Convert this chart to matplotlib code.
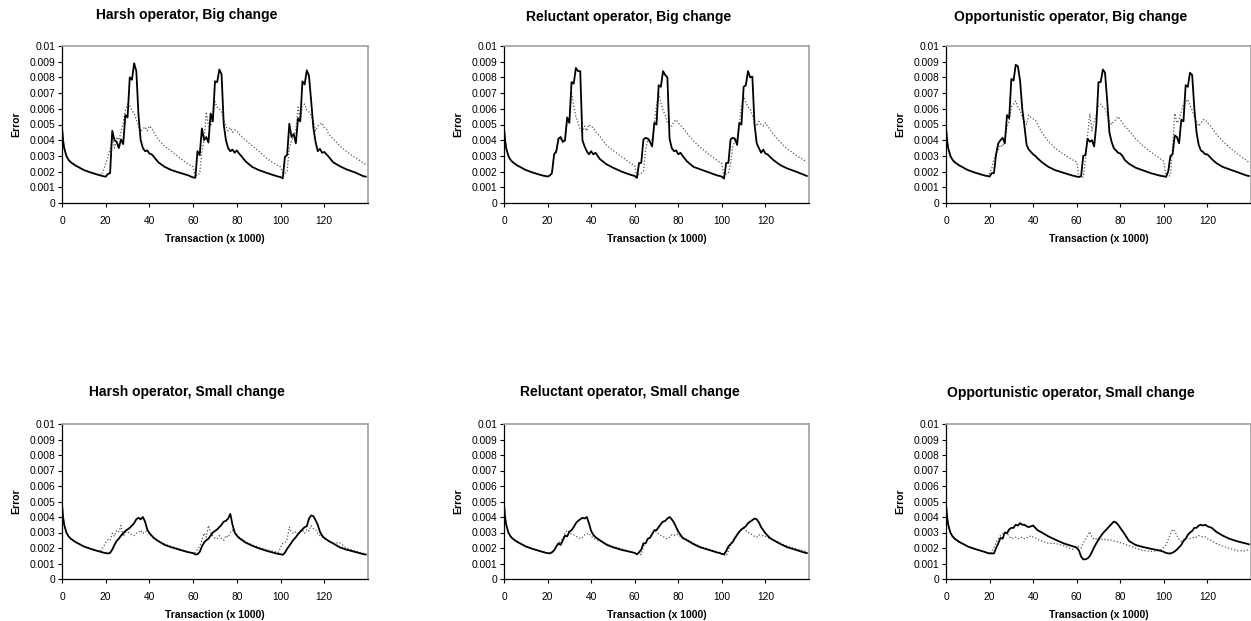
import numpy as np
import matplotlib
matplotlib.use('Agg')
import matplotlib.pyplot as plt
from matplotlib.ticker import FuncFormatter

plt.rcParams['font.family'] = ['Liberation Sans', 'DejaVu Sans']

# transaction count (x 1000) where the curves were read
transactions = [0, 0.5, 1, 2, 3, 4, 6, 8, 10, 13, 16, 18,
                19, 20, 21, 22, 23, 24, 25, 26, 27, 28, 29, 30, 31, 32, 33, 34, 35, 36, 37, 38, 39, 40, 41, 42,
                44, 47, 50, 54, 58,
                59, 60, 61, 62, 63, 64, 65, 66, 67, 68, 69, 70, 71, 72, 73, 74, 75, 76, 77, 78, 79, 80, 81, 82,
                84, 87, 90, 94, 98,
                99, 100, 101, 102, 103, 104, 105, 106, 107, 108, 109, 110, 111, 112, 113, 114, 115, 116, 117, 118, 119, 120, 121, 122,
                124, 127, 130, 134, 138,
                139]

# error values in units of 0.001
harsh_big_solid = [4.8, 4.0, 3.5, 3.0, 2.75, 2.6, 2.4, 2.25, 2.1, 1.95, 1.82, 1.74,
                   1.7, 1.68, 1.85, 1.9, 4.6, 4.0, 3.9, 3.5, 4.05, 3.75, 5.6, 5.45, 8.0, 7.85, 8.9, 8.4, 5.6, 4.0, 3.5, 3.3, 3.35, 3.15, 3.1, 2.95,
                   2.6, 2.3, 2.1, 1.92, 1.75,
                   1.68, 1.63, 1.6, 3.3, 3.05, 4.75, 4.0, 4.2, 3.85, 5.7, 5.2, 7.75, 7.7, 8.5, 8.2, 5.0, 4.0, 3.5, 3.3, 3.4, 3.2, 3.35, 3.15, 3.0,
                   2.65, 2.3, 2.1, 1.9, 1.72,
                   1.68, 1.65, 1.57, 2.95, 3.05, 5.05, 4.2, 4.4, 3.8, 5.4, 5.2, 7.75, 7.55, 8.45, 8.1, 6.5, 4.8, 3.9, 3.3, 3.45, 3.2, 3.25, 3.1, 2.95,
                   2.6, 2.35, 2.15, 1.95, 1.7,
                   1.68]
harsh_big_dotted = [4.8, 4.0, 3.5, 3.0, 2.75, 2.6, 2.4, 2.25, 2.1, 1.95, 1.82, 1.78,
                    2.1, 2.5, 2.9, 3.4, 4.3, 3.5, 4.2, 4.0, 4.5, 5.1, 5.9, 6.3, 6.2, 5.9, 5.7, 5.3, 4.9, 4.55, 4.7, 4.85, 4.6, 4.9, 4.75, 4.5,
                    4.05, 3.6, 3.3, 2.85, 2.45,
                    2.4, 2.3, 1.65, 1.85, 1.85, 3.3, 4.0, 5.8, 4.9, 4.9, 5.5, 6.45, 6.1, 6.0, 5.8, 5.3, 4.9, 4.6, 4.8, 4.5, 4.65, 4.6, 4.4, 4.25,
                    4.0, 3.65, 3.3, 2.8, 2.45,
                    2.35, 2.3, 1.9, 1.9, 2.0, 3.5, 4.0, 4.2, 4.7, 6.1, 5.3, 6.2, 6.3, 5.9, 5.8, 5.6, 5.2, 4.6, 4.9, 5.0, 5.1, 4.8, 4.7, 4.4,
                    4.1, 3.65, 3.3, 2.9, 2.55,
                    2.45]

reluctant_big_solid = [4.8, 4.0, 3.5, 3.0, 2.75, 2.6, 2.4, 2.25, 2.1, 1.95, 1.82, 1.74,
                       1.72, 1.68, 1.75, 1.9, 3.1, 3.3, 4.1, 4.2, 3.9, 4.0, 5.45, 5.1, 7.7, 7.6, 8.6, 8.4, 8.4, 4.0, 3.6, 3.3, 3.1, 3.3, 3.1, 3.2,
                       2.8, 2.47, 2.25, 2.0, 1.8,
                       1.76, 1.72, 1.6, 2.55, 2.55, 4.05, 4.15, 4.1, 3.9, 3.6, 5.1, 5.0, 7.5, 7.4, 8.4, 8.15, 8.0, 4.1, 3.5, 3.3, 3.35, 3.1, 3.2, 3.0,
                       2.65, 2.3, 2.15, 1.95, 1.75,
                       1.72, 1.68, 1.55, 2.55, 2.55, 4.05, 4.15, 4.1, 3.7, 5.1, 5.0, 7.4, 7.5, 8.4, 8.0, 8.05, 5.0, 3.8, 3.5, 3.2, 3.4, 3.15, 3.1, 2.95,
                       2.7, 2.4, 2.2, 2.0, 1.78,
                       1.72]
reluctant_big_dotted = [4.8, 4.0, 3.5, 3.0, 2.75, 2.6, 2.4, 2.25, 2.1, 1.95, 1.82, 1.74,
                        1.72, 1.68, 1.75, 1.9, 3.0, 3.2, 4.0, 4.1, 3.85, 3.95, 5.3, 5.1, 7.0, 6.2, 5.5, 5.1, 4.7, 4.45, 4.9, 4.6, 5.0, 4.85, 4.8, 4.55,
                        4.25, 3.7, 3.35, 2.95, 2.55,
                        2.45, 2.38, 1.7, 1.85, 1.9, 2.0, 3.4, 4.0, 4.1, 4.0, 5.0, 6.2, 7.0, 6.4, 5.9, 5.6, 5.1, 4.95, 4.9, 5.2, 5.3, 5.1, 4.95, 4.8,
                        4.45, 3.95, 3.55, 3.1, 2.7,
                        2.6, 2.5, 1.7, 1.85, 1.9, 2.5, 3.6, 4.0, 4.1, 5.0, 6.2, 6.8, 6.4, 6.1, 6.0, 5.6, 5.1, 4.9, 5.2, 5.0, 4.9, 5.1, 4.9, 4.7,
                        4.3, 3.85, 3.45, 3.05, 2.7,
                        2.6]

opp_big_solid = [4.8, 4.0, 3.5, 3.0, 2.75, 2.6, 2.4, 2.25, 2.1, 1.95, 1.82, 1.74,
                 1.72, 1.68, 1.9, 1.9, 3.1, 3.8, 4.0, 4.15, 3.8, 5.6, 5.4, 7.9, 7.8, 8.8, 8.7, 7.8, 6.0, 4.9, 3.7, 3.4, 3.25, 3.1, 3.0, 2.85,
                 2.6, 2.3, 2.1, 1.92, 1.75,
                 1.72, 1.68, 1.66, 1.7, 3.0, 3.05, 4.1, 3.9, 4.0, 3.6, 5.0, 7.7, 7.7, 8.5, 8.3, 6.5, 4.5, 3.9, 3.5, 3.35, 3.2, 3.15, 3.0, 2.75,
                 2.5, 2.25, 2.1, 1.9, 1.75,
                 1.72, 1.7, 1.66, 2.0, 3.0, 3.1, 4.3, 4.2, 3.8, 5.3, 5.2, 7.5, 7.4, 8.3, 8.15, 6.0, 4.5, 3.7, 3.35, 3.25, 3.1, 3.1, 2.95, 2.8,
                 2.55, 2.3, 2.15, 1.95, 1.75,
                 1.72]
opp_big_dotted = [4.8, 4.0, 3.5, 3.0, 2.75, 2.6, 2.4, 2.25, 2.1, 1.95, 1.82, 1.74,
                  1.72, 1.9, 2.2, 2.8, 3.2, 3.4, 3.7, 3.6, 4.0, 4.9, 5.2, 6.1, 6.3, 6.5, 6.1, 5.9, 5.5, 5.2, 5.0, 5.6, 5.45, 5.35, 5.3, 5.0,
                  4.5, 3.9, 3.5, 3.1, 2.75,
                  2.7, 2.6, 1.7, 1.65, 1.65, 2.8, 4.3, 5.7, 4.6, 5.2, 5.6, 6.2, 6.3, 6.1, 6.0, 5.6, 5.2, 5.0, 5.2, 5.3, 5.5, 5.3, 5.1, 4.9,
                  4.6, 4.1, 3.7, 3.25, 2.85,
                  2.75, 2.65, 1.7, 1.7, 1.75, 3.5, 5.7, 5.1, 5.3, 5.8, 6.3, 6.4, 6.6, 6.2, 5.9, 5.5, 5.2, 4.9, 5.1, 5.3, 5.3, 5.1, 5.0, 4.8,
                  4.4, 3.95, 3.55, 3.1, 2.7,
                  2.6]

harsh_small_solid = [4.8, 4.0, 3.5, 3.0, 2.75, 2.6, 2.4, 2.25, 2.1, 1.95, 1.82, 1.74,
                     1.7, 1.67, 1.65, 1.68, 1.9, 2.2, 2.45, 2.6, 2.8, 2.95, 3.1, 3.2, 3.3, 3.45, 3.6, 3.85, 3.95, 3.85, 4.0, 3.7, 3.2, 2.95, 2.8, 2.65,
                     2.45, 2.2, 2.05, 1.88, 1.72,
                     1.7, 1.67, 1.58, 1.6, 1.75, 2.1, 2.35, 2.5, 2.6, 2.8, 3.0, 3.1, 3.2, 3.35, 3.5, 3.7, 3.75, 3.9, 4.2, 3.5, 3.0, 2.8, 2.65, 2.55,
                     2.35, 2.15, 1.98, 1.8, 1.65,
                     1.62, 1.6, 1.56, 1.7, 1.95, 2.15, 2.35, 2.55, 2.7, 2.9, 3.05, 3.2, 3.35, 3.4, 3.9, 4.1, 4.05, 3.8, 3.5, 3.05, 2.8, 2.65, 2.55, 2.45,
                     2.3, 2.05, 1.9, 1.75, 1.6,
                     1.58]
harsh_small_dotted = [4.8, 4.0, 3.5, 3.0, 2.75, 2.6, 2.4, 2.25, 2.1, 1.95, 1.82, 1.85,
                      2.1, 2.35, 2.55, 2.5, 2.95, 2.75, 3.15, 3.05, 3.45, 2.75, 3.0, 3.05, 2.95, 2.85, 2.8, 2.95, 3.0, 3.15, 2.95, 3.05, 3.1, 2.95, 2.8, 2.65,
                      2.45, 2.25, 2.1, 1.92, 1.72,
                      1.7, 1.67, 1.7, 1.95, 2.1, 2.5, 2.95, 2.7, 3.45, 3.0, 2.75, 2.65, 2.6, 2.8, 2.6, 2.5, 2.8, 2.7, 3.0, 3.15, 3.0, 2.85, 2.7, 2.6,
                      2.4, 2.2, 2.05, 1.88, 1.75,
                      1.72, 2.05, 2.3, 2.35, 2.55, 3.35, 3.0, 2.95, 3.05, 2.95, 3.1, 3.15, 2.95, 3.2, 3.1, 3.45, 3.25, 3.2, 2.95, 2.8, 2.7, 2.6, 2.55, 2.45,
                      2.3, 2.35, 2.0, 1.82, 1.65,
                      1.62]

reluctant_small_solid = [4.8, 4.0, 3.5, 3.0, 2.75, 2.6, 2.4, 2.25, 2.1, 1.95, 1.82, 1.74,
                         1.7, 1.67, 1.65, 1.72, 1.85, 2.1, 2.3, 2.2, 2.5, 2.8, 2.75, 3.05, 3.15, 3.35, 3.6, 3.75, 3.85, 3.95, 3.9, 4.0, 3.6, 3.1, 2.85, 2.7,
                         2.5, 2.22, 2.05, 1.88, 1.75,
                         1.72, 1.68, 1.6, 1.72, 1.9, 2.3, 2.3, 2.6, 2.65, 2.9, 3.15, 3.15, 3.35, 3.55, 3.7, 3.75, 3.9, 4.0, 3.85, 3.65, 3.35, 3.05, 2.85, 2.65,
                         2.5, 2.25, 2.05, 1.88, 1.7,
                         1.68, 1.62, 1.6, 1.8, 2.1, 2.25, 2.4, 2.65, 2.85, 3.05, 3.2, 3.3, 3.4, 3.6, 3.7, 3.8, 3.9, 3.85, 3.65, 3.35, 3.15, 2.95, 2.8, 2.65,
                         2.48, 2.25, 2.05, 1.88, 1.7,
                         1.67]
reluctant_small_dotted = [4.8, 4.0, 3.5, 3.0, 2.75, 2.6, 2.4, 2.25, 2.1, 1.95, 1.82, 1.74,
                          1.7, 1.67, 1.65, 1.72, 1.85, 2.1, 2.3, 2.45, 2.6, 2.95, 3.15, 3.0, 2.9, 2.85, 2.75, 2.7, 2.6, 2.7, 2.85, 2.9, 2.95, 2.75, 2.65, 2.55,
                          2.45, 2.25, 2.1, 1.93, 1.75,
                          1.72, 1.68, 1.6, 1.6, 1.58, 2.1, 2.3, 2.6, 2.65, 2.9, 3.05, 3.05, 2.9, 2.8, 2.75, 2.65, 2.6, 2.7, 2.85, 2.8, 2.9, 2.85, 2.75, 2.65,
                          2.55, 2.3, 2.1, 1.92, 1.75,
                          1.7, 1.6, 1.55, 1.5, 1.8, 2.2, 2.35, 2.6, 2.85, 3.0, 3.2, 3.3, 3.15, 3.0, 2.95, 2.85, 2.75, 2.7, 2.85, 2.8, 2.8, 2.75, 2.7, 2.6,
                          2.5, 2.3, 2.12, 1.95, 1.8,
                          1.78]

opp_small_solid = [4.8, 4.0, 3.5, 3.0, 2.75, 2.6, 2.4, 2.25, 2.1, 1.95, 1.82, 1.74,
                   1.68, 1.65, 1.65, 1.65, 2.0, 2.3, 2.65, 2.6, 3.0, 2.95, 3.2, 3.3, 3.3, 3.5, 3.45, 3.6, 3.5, 3.5, 3.4, 3.35, 3.4, 3.45, 3.3, 3.15,
                   3.0, 2.75, 2.55, 2.3, 2.12,
                   2.08, 2.02, 1.85, 1.45, 1.27, 1.27, 1.33, 1.48, 1.75, 2.05, 2.3, 2.55, 2.75, 2.95, 3.1, 3.25, 3.4, 3.55, 3.7, 3.65, 3.5, 3.3, 3.1, 2.9,
                   2.45, 2.2, 2.08, 1.95, 1.84,
                   1.8, 1.75, 1.68, 1.65, 1.65, 1.7, 1.78, 1.9, 2.05, 2.2, 2.45, 2.6, 2.85, 3.0, 3.1, 3.3, 3.3, 3.45, 3.5, 3.45, 3.5, 3.4, 3.35, 3.3,
                   3.05, 2.8, 2.6, 2.42, 2.28,
                   2.24]
opp_small_dotted = [4.8, 4.0, 3.5, 3.0, 2.75, 2.6, 2.4, 2.25, 2.1, 1.95, 1.82, 1.74,
                    1.7, 1.66, 1.75, 2.05, 2.35, 2.6, 2.8, 2.9, 3.0, 2.95, 2.75, 2.6, 2.65, 2.7, 2.6, 2.65, 2.7, 2.6, 2.65, 2.7, 2.8, 2.7, 2.65, 2.57,
                    2.45, 2.3, 2.3, 2.15, 1.92,
                    2.0, 2.05, 2.1, 2.0, 2.3, 2.55, 2.8, 3.05, 2.7, 2.55, 2.6, 2.55, 2.5, 2.6, 2.55, 2.5, 2.55, 2.5, 2.45, 2.42, 2.4, 2.35, 2.3, 2.25,
                    2.15, 1.98, 1.85, 1.78, 1.82,
                    1.92, 2.05, 2.2, 2.55, 2.9, 3.2, 3.1, 2.8, 2.55, 2.45, 2.55, 2.65, 2.65, 2.6, 2.65, 2.7, 2.7, 2.8, 2.75, 2.7, 2.72, 2.6, 2.55, 2.45,
                    2.3, 2.12, 1.98, 1.82, 1.82,
                    1.98]

titles = ['Harsh operator, Big change', 'Reluctant operator, Big change', 'Opportunistic operator, Big change',
          'Harsh operator, Small change', 'Reluctant operator, Small change', 'Opportunistic operator, Small change']
solid_series = [harsh_big_solid, reluctant_big_solid, opp_big_solid,
                harsh_small_solid, reluctant_small_solid, opp_small_solid]
dotted_series = [harsh_big_dotted, reluctant_big_dotted, opp_big_dotted,
                 harsh_small_dotted, reluctant_small_dotted, opp_small_dotted]

W, H = 1251, 621
fig = plt.figure(figsize=(W / 100, H / 100), dpi=100)

# axes boxes in pixels: left, right, top, bottom ; title centre x, title y ; ylabel x
boxes = [(62, 368, 46, 203, 187, 15, 16),
         (504, 809, 46, 203, 629, 17, 458),
         (946, 1251, 46, 203, 1071, 17, 900),
         (62, 368, 424, 579, 187, 392, 16),
         (504, 809, 424, 579, 630, 392, 458),
         (946, 1251, 424, 579, 1071, 393, 900)]

x = np.array(transactions)
for i in range(6):
    l, r, t, b, tx, ty, yx = boxes[i]
    ax = fig.add_axes([l / W, (H - b) / H, (r - l) / W, (b - t) / H])
    ax.plot(x, np.array(dotted_series[i]) * 0.001, color='#555555', lw=0.9, ls=(0, (1, 1.6)))
    ax.plot(x, np.array(solid_series[i]) * 0.001, color='black', lw=1.3)
    ax.set_xlim(0, 140)
    ax.set_ylim(0, 0.01)
    ax.set_xticks([0, 20, 40, 60, 80, 100, 120])
    ax.set_yticks(np.arange(0, 0.0105, 0.001))
    ax.yaxis.set_major_formatter(FuncFormatter(lambda v, p: '%g' % round(v, 4)))
    ax.tick_params(direction='out', length=3, width=0.8, labelsize=7.4, pad=2)
    ax.tick_params(axis='x', pad=6)
    for s in ['top', 'right']:
        ax.spines[s].set_color('#a0a0a0')
        ax.spines[s].set_linewidth(1.2)
    for s in ['left', 'bottom']:
        ax.spines[s].set_color('black')
        ax.spines[s].set_linewidth(0.9)
    ax.set_xlabel('Transaction (x 1000)', fontsize=7.5, fontweight='bold', labelpad=6)
    fig.text(tx / W, 1 - ty / H, titles[i], ha='center', va='center', fontsize=10, fontweight='bold')
    fig.text(yx / W, 1 - ((t + b) / 2) / H, 'Error', ha='center', va='center', rotation=90,
             fontsize=7.5, fontweight='bold')

fig.savefig('out.png', dpi=100)
